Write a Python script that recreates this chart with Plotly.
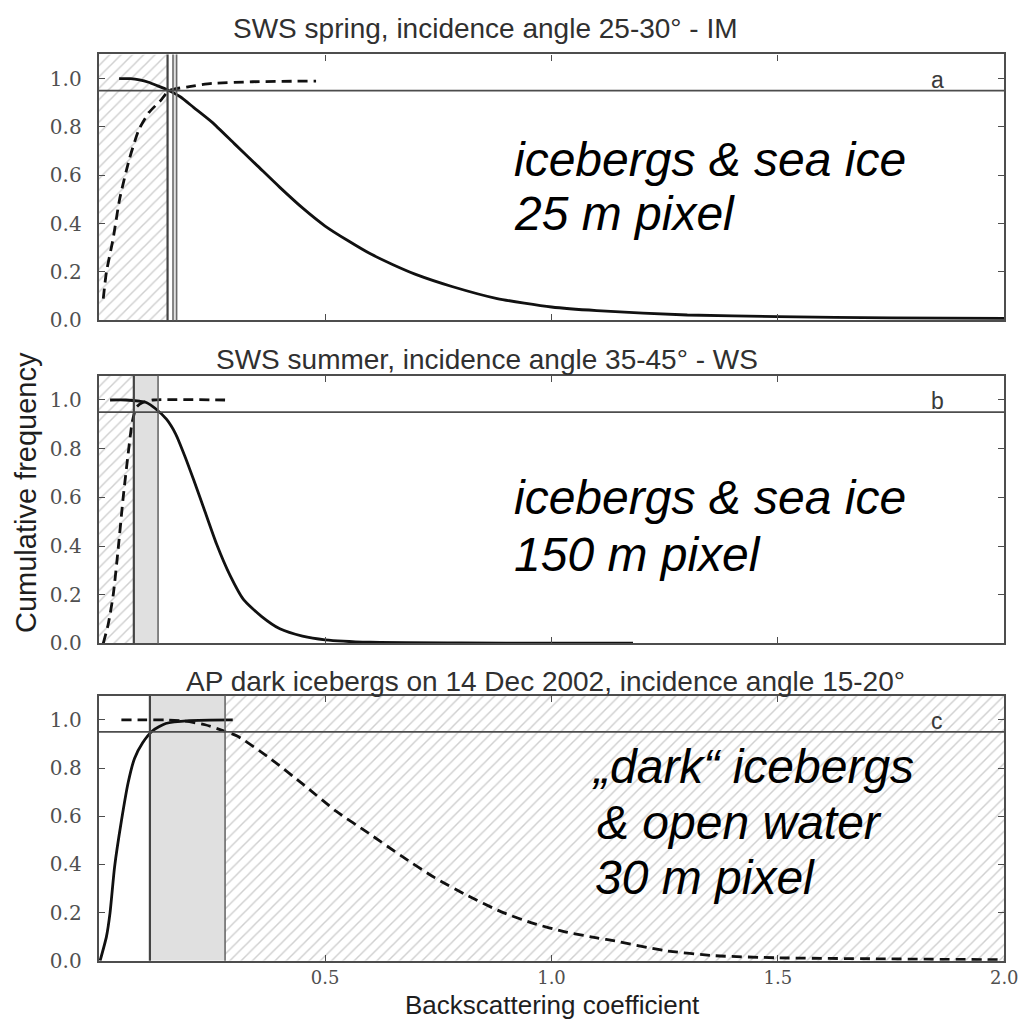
import plotly.graph_objects as go

# ---------------- data ----------------
x_range = [0.0, 2.0]
y_range = [0.0, 1.1]
y_ticks = [0.0, 0.2, 0.4, 0.6, 0.8, 1.0]
x_ticks = [0.5, 1.0, 1.5, 2.0]
x_ticklabels = ["0.5", "1.0", "1.5", "2.0"]
threshold_level = 0.95

titles = [
    "SWS spring, incidence angle 25-30° - IM",
    "SWS summer, incidence angle 35-45° - WS",
    "AP dark icebergs on 14 Dec 2002, incidence angle 15-20°",
]
x_title = "Backscattering coefficient"
y_title = "Cumulative frequency"
panel_letters = ["a", "b", "c"]
notes = [
    ["icebergs & sea ice", "25 m pixel"],
    ["icebergs & sea ice", "150 m pixel"],
    ["„dark“ icebergs", "& open water", "30 m pixel"],
]

# panel a
a_solid_x = [0.045, 0.07, 0.09, 0.11, 0.13, 0.15, 0.18, 0.21, 0.25, 0.30, 0.35, 0.40,
             0.45, 0.50, 0.55, 0.60, 0.65, 0.70, 0.78, 0.88, 1.0, 1.1, 1.3, 1.5, 1.75, 2.0]
a_solid_y = [1.0, 1.0, 0.995, 0.985, 0.97, 0.955, 0.925, 0.88, 0.82, 0.73, 0.64, 0.55,
             0.465, 0.39, 0.33, 0.275, 0.23, 0.19, 0.14, 0.09, 0.055, 0.04, 0.022, 0.015, 0.01, 0.008]
a_dash_x = [0.010, 0.017, 0.032, 0.046, 0.068, 0.089, 0.111, 0.137, 0.155, 0.2, 0.25, 0.34, 0.48]
a_dash_y = [0.09, 0.20, 0.34, 0.50, 0.67, 0.79, 0.86, 0.91, 0.95, 0.967, 0.98, 0.987, 0.99]
a_hatch = [0.0, 0.152]
a_band = [0.164, 0.172]
a_edges = [0.152, 0.164, 0.172]

# panel b
b_solid_x = [0.025, 0.06, 0.09, 0.105, 0.125, 0.15, 0.17, 0.19, 0.21, 0.235, 0.26, 0.29,
             0.32, 0.36, 0.40, 0.45, 0.50, 0.6, 0.8, 1.0, 1.18]
b_solid_y = [1.0, 1.0, 0.995, 0.99, 0.965, 0.92, 0.86, 0.77, 0.67, 0.54, 0.41, 0.28,
             0.18, 0.11, 0.06, 0.03, 0.015, 0.005, 0.002, 0.001, 0.001]
b_dash_x = [0.010, 0.021, 0.032, 0.043, 0.054, 0.065, 0.074, 0.083, 0.097, 0.12, 0.279]
b_dash_y = [0.0, 0.08, 0.2, 0.39, 0.60, 0.78, 0.91, 0.97, 0.99, 1.0, 1.0]
b_hatch = [0.0, 0.0775]
b_band = [0.0775, 0.131]
b_edges = [0.0775, 0.131]

# panel c
c_solid_x = [0.003, 0.017, 0.025, 0.035, 0.05, 0.065, 0.079, 0.097, 0.119, 0.148, 0.2, 0.296]
c_solid_y = [0.0, 0.10, 0.2, 0.39, 0.58, 0.74, 0.84, 0.905, 0.955, 0.985, 0.997, 1.0]
c_dash_x = [0.05, 0.1, 0.15, 0.19, 0.235, 0.279, 0.307, 0.38, 0.453, 0.525, 0.598, 0.67,
            0.742, 0.815, 0.888, 0.96, 1.03, 1.1, 1.14, 1.25, 1.36, 1.5, 1.72, 2.0]
c_dash_y = [1.0, 1.0, 1.0, 0.995, 0.98, 0.953, 0.932, 0.838, 0.73, 0.62, 0.527, 0.433,
            0.345, 0.27, 0.204, 0.155, 0.12, 0.095, 0.082, 0.042, 0.021, 0.012, 0.008, 0.004]
c_hatch = [0.279, 2.0]
c_band = [0.113, 0.279]
c_edges = [0.113, 0.279]

panels = [
    dict(sx=a_solid_x, sy=a_solid_y, dx=a_dash_x, dy=a_dash_y, hatch=a_hatch, band=a_band, edges=a_edges),
    dict(sx=b_solid_x, sy=b_solid_y, dx=b_dash_x, dy=b_dash_y, hatch=b_hatch, band=b_band, edges=b_edges),
    dict(sx=c_solid_x, sy=c_solid_y, dx=c_dash_x, dy=c_dash_y, hatch=c_hatch, band=c_band, edges=c_edges),
]

# ---------------- layout geometry ----------------
W, H = 1027, 1025
x_dom = [92 / W, 1010 / W]
y_doms = [[1 - 316 / H, 1 - 47 / H], [1 - 643 / H, 1 - 372 / H], [1 - 964 / H, 1 - 696 / H]]
title_pos = [(484, 21), (486, 356), (545, 681)]
note_pos = [
    [(0.912, 0.665), (0.912, 0.44)],
    [(0.912, 0.60), (0.912, 0.365)],
    [(1.085, 0.805), (1.096, 0.575), (1.091, 0.345)],
]

AX_COL = "#4d4d4d"
fig = go.Figure()
shapes = []
annotations = []

for i, p in enumerate(panels):
    xa = "x" if i == 0 else f"x{i+1}"
    ya = "y" if i == 0 else f"y{i+1}"
    # hatched region
    h0, h1 = p["hatch"]
    fig.add_trace(go.Scatter(
        x=[h0, h1, h1, h0, h0], y=[y_range[0], y_range[0], y_range[1], y_range[1], y_range[0]],
        xaxis=xa, yaxis=ya, mode="none", fill="toself", fillcolor="rgba(0,0,0,0)",
        fillpattern=dict(shape="/", fgcolor="#a0a0a0", bgcolor="rgba(255,255,255,0)",
                         size=8, solidity=0.18),
        showlegend=False, hoverinfo="skip"))
    # gray band
    b0, b1 = p["band"]
    fig.add_trace(go.Scatter(
        x=[b0, b1, b1, b0, b0], y=[y_range[0], y_range[0], y_range[1], y_range[1], y_range[0]],
        xaxis=xa, yaxis=ya, mode="none", fill="toself", fillcolor="#e0e0e0",
        showlegend=False, hoverinfo="skip"))
    # dashed curve
    fig.add_trace(go.Scatter(
        x=p["dx"], y=p["dy"], xaxis=xa, yaxis=ya, mode="lines",
        line=dict(color="#111111", width=2.8, dash="10px,6px", shape="spline", smoothing=0.6),
        showlegend=False))
    # solid curve
    fig.add_trace(go.Scatter(
        x=p["sx"], y=p["sy"], xaxis=xa, yaxis=ya, mode="lines",
        line=dict(color="#111111", width=2.8, shape="spline", smoothing=0.6),
        showlegend=False))
    # vertical edge lines
    for k, e in enumerate(p["edges"]):
        shapes.append(dict(type="line", xref=xa, yref=f"{ya} domain", x0=e, x1=e, y0=0, y1=1,
                           line=dict(color="#444444" if k == 0 else "#6a6a6a",
                                     width=2.2 if k == 0 else 1.6)))
    # 0.95 line
    shapes.append(dict(type="line", xref=f"{xa} domain", yref=ya, x0=0, x1=1,
                       y0=threshold_level, y1=threshold_level,
                       line=dict(color="#4d4d4d", width=1.7)))
    # panel letter
    annotations.append(dict(xref=xa, yref=ya, x=1.852, y=0.995, text=panel_letters[i],
                            showarrow=False, font=dict(family="Liberation Sans", size=23, color="#3a3a3a")))
    # title
    tx, ty = title_pos[i]
    annotations.append(dict(xref="paper", yref="paper", x=tx / W, y=1 - ty / H, text=titles[i],
                            showarrow=False, xanchor="center", yanchor="middle",
                            font=dict(family="Liberation Sans", size=28, color="#303030")))
    # italic notes
    for line, (nx, ny) in zip(notes[i], note_pos[i]):
        annotations.append(dict(xref=xa, yref=ya, x=nx, y=ny, text=f"<i>{line}</i>",
                                showarrow=False, xanchor="left", yanchor="middle",
                                font=dict(family="Liberation Sans", size=48, color="#000")))

    axis_common = dict(showline=True, linecolor=AX_COL, linewidth=2.2, mirror="ticks",
                       ticks="inside", ticklen=6, tickcolor=AX_COL, tickwidth=1.2,
                       showgrid=False, zeroline=False,
                       tickfont=dict(family="DejaVu Serif", size=20, color="#505050"))
    fig.update_layout({
        ("xaxis" if i == 0 else f"xaxis{i+1}"): dict(
            axis_common, domain=x_dom, range=x_range, anchor=ya,
            tickvals=x_ticks, ticktext=x_ticklabels, showticklabels=(i == 2),
            tickfont=dict(family="DejaVu Serif", size=18, color="#505050")),
        ("yaxis" if i == 0 else f"yaxis{i+1}"): dict(
            axis_common, domain=y_doms[i], range=y_range, anchor=xa,
            tickvals=y_ticks, tickformat=".1f", ticklabelstandoff=11),
    })

annotations.append(dict(xref="paper", yref="paper", x=19 / W, y=1 - 490 / H,
                        text=y_title, textangle=-90, showarrow=False,
                        xanchor="center", yanchor="middle",
                        font=dict(family="Liberation Sans", size=29, color="#1e1e1e")))
annotations.append(dict(xref="paper", yref="paper", x=552 / W, y=0,
                        text=x_title, showarrow=False,
                        xanchor="center", yanchor="bottom", borderpad=0,
                        font=dict(family="Liberation Sans", size=26, color="#1e1e1e")))

fig.update_layout(width=W, height=H, autosize=False,
                  margin=dict(l=0, r=0, t=0, b=0),
                  paper_bgcolor="white", plot_bgcolor="white",
                  shapes=shapes, annotations=annotations, showlegend=False)

fig.write_html("out.html")
